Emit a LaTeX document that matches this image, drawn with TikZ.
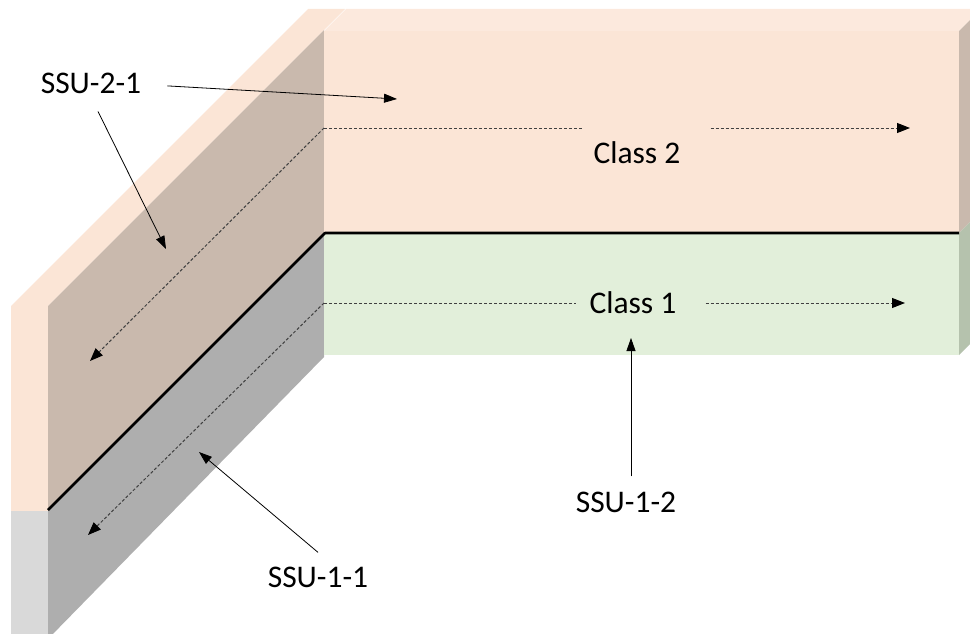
\documentclass[tikz,border=0pt]{standalone}
\usepackage{fontspec}
\setmainfont{Carlito}
\usetikzlibrary{arrows.meta,calc}

\definecolor{peach}{HTML}{FBE5D6}
\definecolor{peachtop}{HTML}{FCE9DD}
\definecolor{peachside}{HTML}{C9B9AD}
\definecolor{leaf}{HTML}{E2EFDA}
\definecolor{leafside}{HTML}{B5C2AD}
\definecolor{ashlight}{HTML}{D9D9D9}
\definecolor{ashside}{HTML}{AEAEAE}

\begin{document}
\begin{tikzpicture}[x=1pt,y=-1pt,
   lbl/.style={font=\fontsize{31.5}{36}\selectfont,inner sep=0pt,anchor=base},
   flowline/.style={draw=black!75,line width=1pt,dash pattern=on 3pt off 2pt},
   flow/.style={flowline,-{Triangle[length=13pt,width=10pt,black]}},
   ptr/.style={draw=black,line width=0.8pt,-{Triangle[length=13pt,width=9pt]}},
   seam/.style={draw=black,line width=2.6pt,line join=round}]
   \clip (0,0) rectangle (970,634);

   % left wall
   \fill[peach] (11,306) -- (48,306) -- (345,9) -- (308,9) -- cycle;
   \fill[peachside] (48,306) -- (324,30) -- (324,233) -- (48,511) -- cycle;
   \fill[ashside] (48,511) -- (324,233) -- (324,357) -- (48,639) -- cycle;
   \fill[peach] (11,306) rectangle (48,511);
   \fill[ashlight] (11,511) rectangle (48,640);

   % back wall
   \fill[peachtop] (324,31) -- (346,9) -- (981,9) -- (959,31) -- cycle;
   \fill[peach] (324,31) rectangle (959,233);
   \fill[leaf] (324,233) rectangle (959,355);
   \fill[peachside] (959,31) -- (981,9) -- (981,211) -- (959,233) -- cycle;
   \fill[leafside] (959,233) -- (981,211) -- (981,333) -- (959,355) -- cycle;

   \draw[seam] (48,510) -- (325,233) -- (959,233);

   \coordinate (k2) at (324,128);
   \coordinate (k1) at (324,303);
   \coordinate (e2) at (910,128);
   \coordinate (e1) at (905,303);
   \coordinate (w2) at (90,361);
   \coordinate (w1) at (88,535);

   \node[lbl] (cls2) at (637,163) {Class 2};
   \node[lbl] (cls1) at (633,313) {Class 1};

   \draw[flowline] (k2) -- ($(k2 -| cls2.west)+(-11,0)$);
   \draw[flow] ($(k2 -| cls2.east)+(30,0)$) -- (e2);
   \draw[flow] (k2) -- (w2);
   \draw[flowline] (k1) -- ($(k1 -| cls1.west)+(-13,0)$);
   \draw[flow] ($(k1 -| cls1.east)+(29,0)$) -- (e1);
   \draw[flow] (k1) -- (w1);

   \node[lbl] (s21) at (91,94) {SSU-2-1};
   \node[lbl] (s11) at (318,587) {SSU-1-1};
   \node[lbl] (s12) at (626,512) {SSU-1-2};

   \coordinate (t21a) at (397,99);
   \coordinate (t21b) at (166,249);
   \coordinate (t11) at (199,452);
   \coordinate (t12) at (631,338);

   \draw[ptr] ($(s21.east)+(26,2)$) -- (t21a);
   \draw[ptr] ($(s21.south)+(7,17)$) -- (t21b);
   \draw[ptr] ($(s11.north)+(0,-14)$) -- (t11);
   \draw[ptr] ($(s12.north)+(5,-15)$) -- (t12);
\end{tikzpicture}
\end{document}
